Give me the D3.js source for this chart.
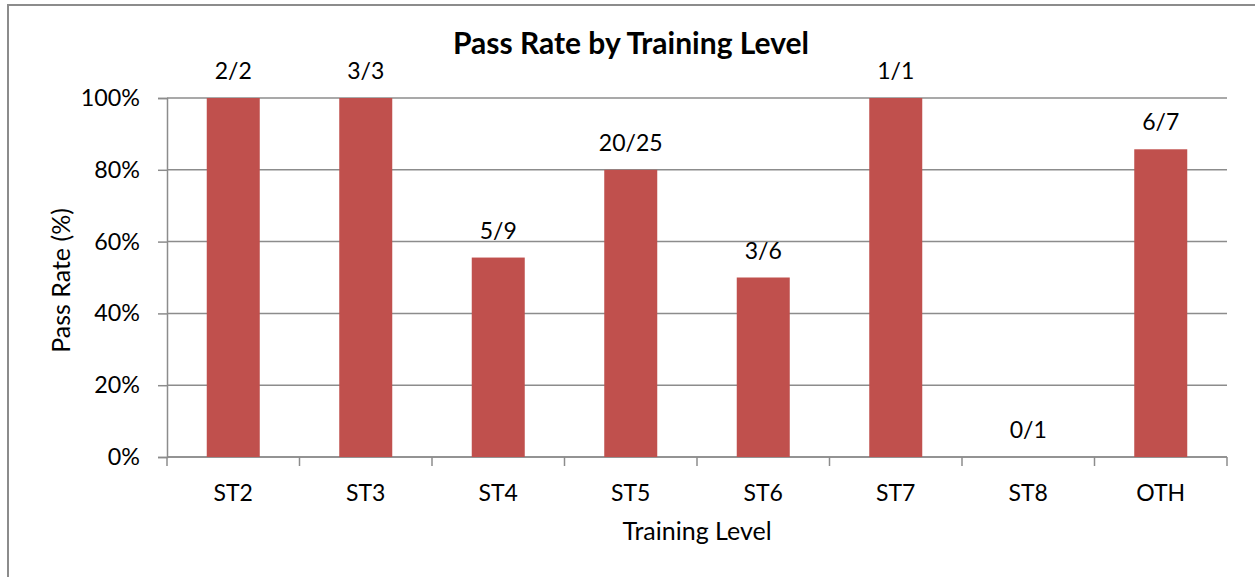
<!DOCTYPE html>
<html>
<head>
<meta charset="utf-8">
<script src="https://cdn.jsdelivr.net/npm/d3@7"></script>
<style>
  body { margin: 0; background: #fff; }
  svg { display: block; }
  text { font-family: Lato, "Open Sans", sans-serif; fill: #000; }
</style>
</head>
<body>
<div id="vis"></div>
<script>
// chart data
const levels = ["ST2", "ST3", "ST4", "ST5", "ST6", "ST7", "ST8", "OTH"];
const passed = [2, 3, 5, 20, 3, 1, 0, 6];
const taken = [2, 3, 9, 25, 6, 1, 1, 7];
const yTicks = [0, 0.2, 0.4, 0.6, 0.8, 1];

const W = 1255, H = 577;
const margin = {top: 98, right: 28, bottom: 120, left: 167};
const width = W - margin.left - margin.right,
      height = H - margin.top - margin.bottom;

const svg = d3.select("#vis").append("svg")
    .attr("width", W)
    .attr("height", H);

// chart border
svg.append("rect")
    .attr("x", 8).attr("y", 5)
    .attr("width", W - 8 + 2).attr("height", H - 5 + 2)
    .attr("fill", "none")
    .attr("stroke", "#8c8c8c")
    .attr("stroke-width", 2);

const g = svg.append("g")
    .attr("transform", `translate(${margin.left},${margin.top})`);

const x = d3.scaleBand()
    .domain(levels)
    .range([0, width])
    .paddingInner(0.6)
    .paddingOuter(0.3);

const y = d3.scaleLinear()
    .domain([0, 1])
    .range([height, 0]);

// gridlines
g.selectAll(".grid")
  .data(yTicks)
  .enter().append("line")
    .attr("x1", 0).attr("x2", width)
    .attr("y1", d => y(d)).attr("y2", d => y(d))
    .attr("stroke", "#8c8c8c")
    .attr("stroke-width", 1.5);

// y axis
const yAxis = g.append("g")
    .call(d3.axisLeft(y).tickValues(yTicks).tickFormat(d3.format(".0%")).tickSize(9).tickPadding(18));
yAxis.select(".domain").attr("stroke", "#8c8c8c").attr("stroke-width", 1.5);
yAxis.selectAll(".tick line").attr("stroke", "#8c8c8c").attr("stroke-width", 1.5);
yAxis.selectAll("text").style("font-size", "23.3px").style("font-family", "Lato");

// x axis, ticks between categories
const step = x.step();
const xAxis = g.append("g")
    .attr("transform", `translate(0,${height})`)
    .call(d3.axisBottom(x).tickSize(0).tickPadding(28));
xAxis.select(".domain").remove();
xAxis.selectAll("text").style("font-size", "23px").style("font-family", "Lato");

g.append("line")
    .attr("x1", 0).attr("x2", width)
    .attr("y1", height).attr("y2", height)
    .attr("stroke", "#8c8c8c")
    .attr("stroke-width", 1.5);

g.selectAll(".xtick")
  .data(d3.range(levels.length + 1))
  .enter().append("line")
    .attr("x1", i => i * step).attr("x2", i => i * step)
    .attr("y1", height).attr("y2", height + 9)
    .attr("stroke", "#8c8c8c")
    .attr("stroke-width", 1.5);

// bars
g.selectAll(".bar")
  .data(levels)
  .enter().append("rect")
    .attr("x", d => x(d))
    .attr("width", x.bandwidth())
    .attr("y", (d, i) => y(passed[i] / taken[i]))
    .attr("height", (d, i) => height - y(passed[i] / taken[i]))
    .attr("fill", "#c0504d");

// data labels
g.selectAll(".label")
  .data(levels)
  .enter().append("text")
    .attr("x", d => x(d) + x.bandwidth() / 2)
    .attr("y", (d, i) => y(passed[i] / taken[i]) - 19)
    .attr("text-anchor", "middle")
    .style("font-size", "23px")
    .text((d, i) => passed[i] + "/" + taken[i]);

// titles
svg.append("text")
    .attr("x", 631).attr("y", 54)
    .attr("text-anchor", "middle")
    .style("font-size", "30px")
    .style("font-weight", "bold")
    .text("Pass Rate by Training Level");

svg.append("text")
    .attr("x", margin.left + width / 2).attr("y", 540)
    .attr("text-anchor", "middle")
    .style("font-size", "25px")
    .text("Training Level");

svg.append("text")
    .attr("transform", `translate(70,${margin.top + height / 2 + 3}) rotate(-90)`)
    .attr("text-anchor", "middle")
    .style("font-size", "25px")
    .text("Pass Rate (%)");
</script>
</body>
</html>
